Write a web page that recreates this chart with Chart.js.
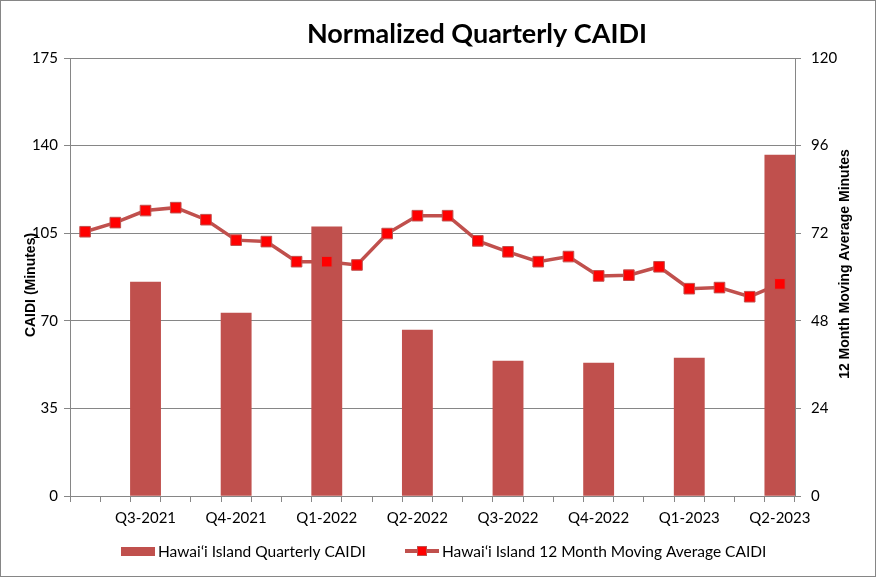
<!DOCTYPE html>
<html>
<head>
<meta charset="utf-8">
<script src="https://cdn.jsdelivr.net/npm/chart.js@4.4.0/dist/chart.umd.min.js"></script>
<style>
  body { margin: 0; background: #fff; }
  #wrap { width: 876px; height: 577px; box-sizing: border-box; border: 1px solid #868686; }
</style>
</head>
<body>
<div id="wrap"><canvas id="caidiChart" width="874" height="575"></canvas></div>
<script>
// monthly slots, quarter labels sit on the last month of each quarter
const labels = ['', '', 'Q3-2021', '', '', 'Q4-2021', '', '', 'Q1-2022', '', '', 'Q2-2022',
  '', '', 'Q3-2022', '', '', 'Q4-2022', '', '', 'Q1-2023', '', '', 'Q2-2023'];

// quarterly CAIDI (left axis), only on quarter months
const quarterlyCaidi = [null, null, 85.5, null, null, 73.1, null, null, 107.5, null, null, 66.3,
  null, null, 53.9, null, null, 53.1, null, null, 55.1, null, null, 136.2];

// 12 month moving average (right axis)
const movingAvg = [72.4, 74.9, 78.2, 79.0, 75.7, 70.1, 69.7, 64.2, 64.2, 63.3, 71.9, 76.8,
  76.8, 69.9, 66.9, 64.2, 65.6, 60.3, 60.5, 62.8, 56.8, 57.1, 54.6, 58.1];

const leftTicks = [0, 35, 70, 105, 140, 175];
const rightTicks = [0, 24, 48, 72, 96, 120];

const barColor = '#C0504D';
const gridColor = '#868686';
const tickFont = { family: 'Lato', size: 15 };

// chart title, axis titles (both read bottom to top) and the legend row
const textPlugin = {
  id: 'textBits',
  afterDraw(chart) {
    const ctx = chart.ctx;
    const ds = chart.data.datasets;
    ctx.save();
    ctx.fillStyle = '#000';
    ctx.textAlign = 'center';
    ctx.textBaseline = 'middle';
    ctx.font = 'bold 27px Lato';
    ctx.fillText('Normalized Quarterly CAIDI', 476, 33);

    ctx.font = 'bold 14px "Liberation Sans"';
    ctx.save();
    ctx.translate(30, 284);
    ctx.rotate(-Math.PI / 2);
    ctx.fillText('CAIDI (Minutes)', 0, 0);
    ctx.restore();

    ctx.font = 'bold 14px "Liberation Sans"';
    ctx.save();
    ctx.translate(844, 263);
    ctx.rotate(-Math.PI / 2);
    ctx.fillText('12 Month Moving Average Minutes', 0, 0);
    ctx.restore();

    // legend
    const ly = 550;
    ctx.textAlign = 'left';
    ctx.font = '15.5px Lato';
    ctx.fillStyle = barColor;
    ctx.fillRect(120, ly - 4, 34, 9);
    ctx.fillStyle = '#000';
    ctx.fillText(ds[1].label, 157, ly + 1);

    ctx.strokeStyle = barColor;
    ctx.lineWidth = 4;
    ctx.beginPath(); ctx.moveTo(404, ly); ctx.lineTo(438, ly); ctx.stroke();
    ctx.fillStyle = '#FF0000';
    ctx.fillRect(416, ly - 5, 10, 10);
    ctx.lineWidth = 1;
    ctx.strokeRect(416.5, ly - 4.5, 9, 9);
    ctx.fillStyle = '#000';
    ctx.fillText(ds[0].label, 441, ly + 1);
    ctx.restore();
  }
};

const ctx = document.getElementById('caidiChart').getContext('2d');
const caidiChart = new Chart(ctx, {
  type: 'bar',
  data: {
    labels: labels,
    datasets: [{
      type: 'line',
      label: 'Hawai\u02bbi Island 12 Month Moving Average CAIDI',
      data: movingAvg,
      yAxisID: 'yRight',
      borderColor: barColor,
      borderWidth: 3.5,
      pointStyle: 'rect',
      pointRadius: 7.5,
      pointBackgroundColor: '#FF0000',
      pointBorderColor: barColor,
      pointBorderWidth: 1,
      tension: 0,
      order: 0
    }, {
      label: 'Hawai\u02bbi Island Quarterly CAIDI',
      data: quarterlyCaidi,
      yAxisID: 'yLeft',
      backgroundColor: barColor,
      barPercentage: 1,
      categoryPercentage: 1,
      skipNull: false,
      order: 1
    }]
  },
  options: {
    responsive: false,
    animation: false,
    layout: { padding: { top: 57, left: 0, right: 0, bottom: 44 } },
    plugins: {
      title: { display: false },
      tooltip: { enabled: false },
      legend: { display: false }
    },
    scales: {
      x: {
        offset: true,
        grid: { display: true, drawOnChartArea: false, offset: true, color: gridColor, tickLength: 6 },
        border: { color: gridColor },
        ticks: { autoSkip: false, maxRotation: 0, color: '#000', font: tickFont, padding: 7 },
        afterFit(scale) { scale.height = 36; }
      },
      yLeft: {
        position: 'left',
        min: 0,
        max: 175,
        afterBuildTicks(scale) { scale.ticks = leftTicks.map(v => ({ value: v })); },
        grid: { color: gridColor, tickLength: 6 },
        border: { color: gridColor },
        ticks: { color: '#000', font: tickFont, padding: 6 },
        afterFit(scale) { scale.width = 69; }
      },
      yRight: {
        position: 'right',
        min: 0,
        max: 120,
        afterBuildTicks(scale) { scale.ticks = rightTicks.map(v => ({ value: v })); },
        grid: { drawOnChartArea: false, color: gridColor, tickLength: 6 },
        border: { color: gridColor },
        ticks: { color: '#000', font: tickFont, padding: 10 },
        afterFit(scale) { scale.width = 80; }
      }
    }
  },
  plugins: [textPlugin]
});
</script>
</body>
</html>
